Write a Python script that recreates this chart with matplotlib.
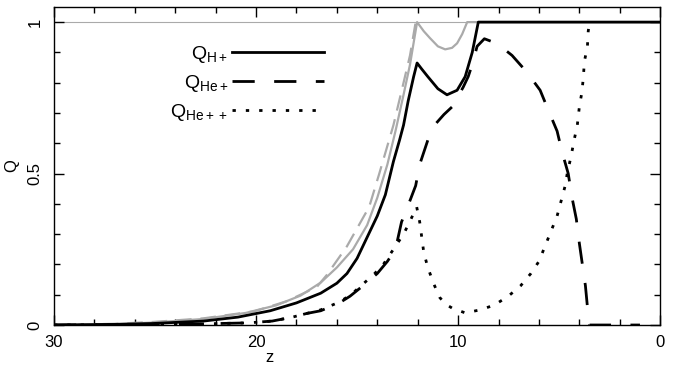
import matplotlib
matplotlib.use('Agg')
import matplotlib.pyplot as plt
from matplotlib.ticker import MultipleLocator

plt.rcParams['font.family'] = ['Liberation Sans', 'DejaVu Sans']
plt.rcParams['mathtext.default'] = 'regular'

# Q_H+ (black solid)
z_h = [30, 27, 25.1, 22.6, 20.9, 19.3, 18.0, 16.8, 16.0, 15.5, 15.0, 14.5, 14.0,
       13.6, 13.2, 12.9, 12.7, 12.47, 12.2, 12.03, 11.8, 11.5, 11.0, 10.55, 10.05,
       9.65, 9.3, 9.0, 0]
q_h = [0, 0.002, 0.005, 0.013, 0.026, 0.047, 0.073, 0.105, 0.138, 0.17, 0.22,
       0.29, 0.36, 0.43, 0.54, 0.61, 0.66, 0.74, 0.82, 0.865, 0.845, 0.82, 0.78,
       0.76, 0.775, 0.82, 0.90, 1.0, 1.0]

# Q_He+ (black dashed)
z_he1 = [30, 26, 23, 21.8, 20.4, 19.2, 18.2, 17.5, 16.8, 15.9, 15.35, 14.7, 14.0,
         13.5, 13.1, 12.8, 12.5, 12.1, 11.9, 11.5, 11.1, 10.7, 10.3, 9.75, 9.5,
         9.3, 9.06, 8.7, 8.3, 7.8, 7.33, 6.6, 5.94, 5.54, 5.1, 4.85, 4.55, 4.36,
         4.15, 4.0, 3.85, 3.7, 3.6, 3.5, 1.0]
q_he1 = [0, 0.001, 0.003, 0.005, 0.007, 0.013, 0.026, 0.038, 0.047, 0.072, 0.095,
         0.13, 0.17, 0.21, 0.25, 0.34, 0.39, 0.46, 0.53, 0.61, 0.665, 0.695, 0.72,
         0.785, 0.82, 0.86, 0.92, 0.945, 0.935, 0.915, 0.89, 0.835, 0.775, 0.71,
         0.64, 0.57, 0.50, 0.42, 0.35, 0.27, 0.20, 0.13, 0.06, 0.0, 0.0]

# Q_He++ (black dotted)
z_he2 = [30, 26, 23, 21.8, 20.4, 19.2, 18.2, 17.5, 16.8, 15.9, 15.3, 14.85, 14.2,
         13.7, 13.2, 12.7, 12.4, 12.05, 11.9, 11.8, 11.7, 11.5, 11.2, 10.9, 10.6,
         10.3, 9.65, 8.9, 8.2, 7.5, 6.9, 6.4, 6.0, 5.7, 5.4, 5.1, 4.9, 4.7, 4.6,
         4.4, 4.26, 4.1, 4.0, 3.87, 3.8, 3.75, 3.6, 3.56, 3.5]
q_he2 = [0, 0.001, 0.003, 0.005, 0.007, 0.013, 0.026, 0.038, 0.05, 0.075, 0.1,
         0.127, 0.165, 0.2, 0.25, 0.30, 0.34, 0.39, 0.34, 0.29, 0.24, 0.19, 0.135,
         0.09, 0.068, 0.056, 0.04, 0.05, 0.066, 0.096, 0.13, 0.17, 0.21, 0.26,
         0.31, 0.36, 0.41, 0.46, 0.50, 0.56, 0.61, 0.66, 0.72, 0.77, 0.82, 0.87,
         0.92, 0.97, 1.0]

# grey comparison curves
z_gs = [30, 27, 25.1, 22.6, 20.5, 19.0, 17.8, 16.8, 16.0, 15.2, 14.5, 14.0, 13.5,
        13.1, 12.7, 12.38, 12.03, 11.7, 11.39, 11.0, 10.64, 10.3, 10.05, 9.8,
        9.55, 0]
q_gs = [0, 0.003, 0.008, 0.02, 0.04, 0.065, 0.097, 0.14, 0.19, 0.25, 0.33, 0.42,
        0.53, 0.64, 0.76, 0.86, 1.0, 0.97, 0.947, 0.92, 0.91, 0.915, 0.93, 0.96,
        1.0, 1.0]
z_gd = [30, 27, 25.1, 22.6, 20.1, 18.5, 17.0, 16.5, 15.5, 14.4, 13.9, 13.2, 12.7,
        12.38, 12.1]
q_gd = [0, 0.004, 0.01, 0.022, 0.045, 0.078, 0.125, 0.165, 0.26, 0.39, 0.5, 0.66,
        0.8, 0.89, 1.0]


fig = plt.figure(figsize=(6.92, 3.66), dpi=100)
ax = fig.add_axes([0.078, 0.112, 0.876, 0.869])

ax.axhline(1.0, color='#aaaaaa', lw=0.8, zorder=1)
ax.plot(z_gs, q_gs, color='#aaaaaa', lw=1.6)
ax.plot(z_gd, q_gd, color='#aaaaaa', lw=1.6, dashes=(7, 4))

ax.plot(z_h, q_h, color='black', lw=2.0, label=r'Q$_{H+}$')
ax.plot(z_he1, q_he1, color='black', lw=2.0, dashes=(8, 7), label=r'Q$_{He+}$')
ax.plot(z_he2, q_he2, color='black', lw=2.0, dashes=(1.2, 3.6), label=r'Q$_{He++}$')

ax.set_xlim(30, 0)
ax.set_ylim(0, 1.05)
ax.xaxis.set_minor_locator(MultipleLocator(2))
ax.yaxis.set_minor_locator(MultipleLocator(0.1))
ax.set_xticks([30, 20, 10, 0])
ax.set_xticklabels(['30', '20', '10', '0'])
ax.set_yticks([0, 0.5, 1])
ax.set_yticklabels(['0', '0.5', '1'], rotation=90, va='center')

ax.tick_params(which='both', direction='in', top=True, right=True, labelsize=12)
ax.tick_params(which='major', length=7, width=1.0)
ax.tick_params(which='minor', length=4, width=1.0)
ax.tick_params(axis='x', pad=7)
ax.tick_params(axis='y', pad=8)
for s in ax.spines.values():
    s.set_linewidth(1.0)

ax.set_xlabel('z', fontsize=12, va='bottom')
ax.xaxis.set_label_coords(0.356, -0.126)
ax.set_ylabel('Q', fontsize=12)
ax.yaxis.set_label_coords(-0.058, 0.5)

ax.legend(loc='upper left', bbox_to_anchor=(0.163, 0.94), frameon=False,
          markerfirst=False, handlelength=4.7, handletextpad=0.2,
          labelspacing=0.42, fontsize=14)

fig.savefig('out.png', dpi=100)
